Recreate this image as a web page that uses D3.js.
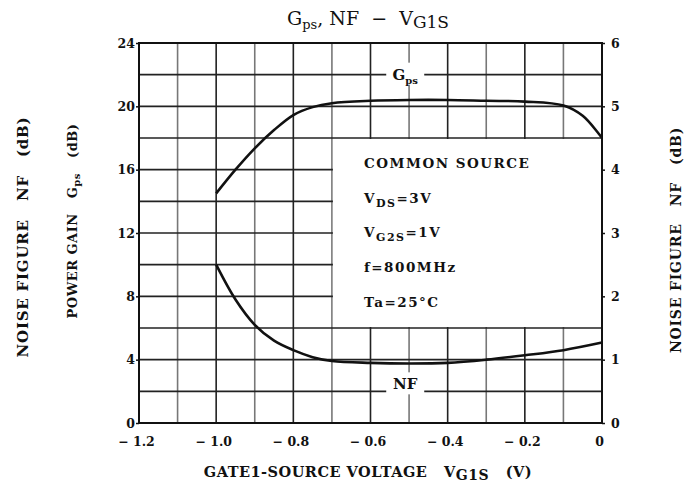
<!DOCTYPE html>
<html>
<head>
<meta charset="utf-8">
<script src="https://cdn.jsdelivr.net/npm/d3@7"></script>
<style>
  body { margin: 0; background: #fff; }
  text { font-family: "DejaVu Serif", "Liberation Serif", serif; fill: #111; white-space: pre; }
</style>
</head>
<body>
<div id="chart"></div>
<script>
'use strict'

// DATA
var vg1s = [-1.0, -0.95, -0.9, -0.85, -0.8, -0.75, -0.7, -0.6, -0.5, -0.4, -0.3, -0.2, -0.1, -0.05, 0];
var gps = [14.5, 16.0, 17.35, 18.5, 19.45, 19.95, 20.2, 20.35, 20.4, 20.4, 20.35, 20.3, 20.05, 19.4, 18.0];

var vg1sNF = [-1.0, -0.95, -0.9, -0.85, -0.8, -0.75, -0.7, -0.6, -0.5, -0.4, -0.3, -0.2, -0.1, 0];
var nf = [2.5, 1.95, 1.55, 1.3, 1.15, 1.04, 0.98, 0.95, 0.94, 0.95, 1.0, 1.07, 1.15, 1.27];

var xTicks = [-1.2, -1.0, -0.8, -0.6, -0.4, -0.2, 0];
var xTickLabels = ['\u2212 1.2', '\u2212 1.0', '\u2212 0.8', '\u2212 0.6', '\u2212 0.4', '\u2212 0.2', '0'];
var leftTicks = [0, 4, 8, 12, 16, 20, 24];
var rightTicks = [0, 1, 2, 3, 4, 5, 6];
var conditions = ['COMMON SOURCE', ['V', 'DS', '=3V'], ['V', 'G2S', '=1V'], 'f=800MHz', 'Ta=25\u00b0C'];

// DISPLAY SETTINGS
var WIDTH = 698, HEIGHT = 491;
var LEFT = 139, RIGHT = 602, TOP = 43, BOTTOM = 423;

var svg = d3.select('#chart').append('svg').attr('width', WIDTH).attr('height', HEIGHT);

var x = d3.scaleLinear().domain([-1.2, 0]).range([LEFT, RIGHT]);
var y = d3.scaleLinear().domain([0, 24]).range([BOTTOM, TOP]);
var yNF = d3.scaleLinear().domain([0, 6]).range([BOTTOM, TOP]);

// GRID
var vLines = d3.range(-1.1, -0.05, 0.1);
svg.append('g').selectAll('line').data(vLines).enter().append('line')
  .attr('x1', function (d) { return x(d); })
  .attr('x2', function (d) { return x(d); })
  .attr('y1', TOP).attr('y2', BOTTOM)
  .attr('stroke', function (d, i) { return i % 2 === 0 ? '#777' : '#222'; })
  .attr('stroke-width', 1.6);

var hLines = d3.range(2, 24, 2);
svg.append('g').selectAll('line').data(hLines).enter().append('line')
  .attr('x1', LEFT).attr('x2', RIGHT)
  .attr('y1', function (d) { return y(d); })
  .attr('y2', function (d) { return y(d); })
  .attr('stroke', '#222')
  .attr('stroke-width', 1.6);

// white box for the conditions
svg.append('rect')
  .attr('x', x(-0.7) + 1).attr('y', y(18) + 1)
  .attr('width', x(0) - x(-0.7) - 1).attr('height', y(6) - y(18) - 2)
  .attr('fill', '#fff');

// FRAME
svg.append('rect')
  .attr('x', LEFT).attr('y', TOP)
  .attr('width', RIGHT - LEFT).attr('height', BOTTOM - TOP)
  .attr('fill', 'none').attr('stroke', '#111').attr('stroke-width', 2);

// AXES
var xAxis = d3.axisBottom(x).tickValues(xTicks).tickSize(0).tickPadding(14)
  .tickFormat(function (d, i) { return xTickLabels[i]; });
var gx = svg.append('g').attr('transform', 'translate(0,' + BOTTOM + ')').call(xAxis);
gx.select('.domain').remove();
gx.selectAll('text').attr('font-size', 12.5).attr('font-weight', 'bold').attr('dx', -3);

var gl = svg.append('g').attr('transform', 'translate(' + LEFT + ',0)')
  .call(d3.axisLeft(y).tickValues(leftTicks).tickSize(3).tickPadding(1));
gl.select('.domain').remove();
gl.selectAll('text').attr('font-size', 12.5).attr('font-weight', 'bold');

var gr = svg.append('g').attr('transform', 'translate(' + RIGHT + ',0)')
  .call(d3.axisRight(yNF).tickValues(rightTicks).tickSize(3).tickPadding(6).tickFormat(d3.format('d')));
gr.select('.domain').remove();
gr.selectAll('text').attr('font-size', 12.5).attr('font-weight', 'bold');
svg.selectAll('.tick line').attr('stroke', '#111').attr('stroke-width', 1.5);

// CURVES
var gpsLine = d3.line()
  .x(function (d, i) { return x(vg1s[i]); })
  .y(function (d) { return y(d); })
  .curve(d3.curveCatmullRom);
svg.append('path').datum(gps).attr('d', gpsLine)
  .attr('fill', 'none').attr('stroke', '#111').attr('stroke-width', 2.6);

var nfLine = d3.line()
  .x(function (d, i) { return x(vg1sNF[i]); })
  .y(function (d) { return yNF(d); })
  .curve(d3.curveCatmullRom);
svg.append('path').datum(nf).attr('d', nfLine)
  .attr('fill', 'none').attr('stroke', '#111').attr('stroke-width', 2.6);

// CURVE LABELS (with white background)
function curveLabel(cx, cy, main, sub) {
  svg.append('rect').attr('x', cx - 19).attr('y', cy - 13).attr('width', 38).attr('height', 22).attr('fill', '#fff');
  var t = svg.append('text').attr('x', cx).attr('y', cy + 4).attr('text-anchor', 'middle')
    .attr('font-size', 15).attr('font-weight', 'bold');
  t.append('tspan').text(main);
  if (sub) t.append('tspan').attr('dy', 4).attr('font-size', 10).text(sub);
}
curveLabel(x(-0.51), y(22) + 1, 'G', 'ps');
curveLabel(x(-0.51), y(2) - 6, 'NF');

// CONDITIONS
var cy0 = 168;
conditions.forEach(function (c, i) {
  var t = svg.append('text').attr('x', 364).attr('y', cy0 + i * 34.7)
    .attr('font-size', 13.5).attr('font-weight', 'bold').attr('letter-spacing', 1.5);
  if (typeof c === 'string') {
    t.text(c);
  } else {
    t.append('tspan').text(c[0]);
    t.append('tspan').attr('dy', 4).attr('font-size', 11).text(c[1]);
    t.append('tspan').attr('dy', -4).text(c[2]);
  }
});

// TITLE
var title = svg.append('text').attr('x', 368).attr('y', 25).attr('text-anchor', 'middle').attr('font-size', 19);
title.append('tspan').text('G');
title.append('tspan').attr('dy', 4).attr('font-size', 13).text('ps');
title.append('tspan').attr('dy', -4).text(', NF  \u2212  V');
title.append('tspan').attr('dy', 3).attr('font-size', 17).text('G1S');

// AXIS TITLES
var xt = svg.append('text').attr('x', 368).attr('y', 477).attr('text-anchor', 'middle')
  .attr('font-size', 14.5).attr('font-weight', 'bold').attr('letter-spacing', 0.5);
xt.append('tspan').text('GATE1-SOURCE VOLTAGE   V');
xt.append('tspan').attr('dy', 3).attr('font-size', 14).text('G1S');
xt.append('tspan').attr('dy', -3).text('   (V)');

svg.append('text').attr('transform', 'translate(28,237) rotate(-90)')
  .attr('text-anchor', 'middle').attr('font-size', 15).attr('font-weight', 'bold').attr('letter-spacing', 0.8)
  .text('NOISE FIGURE   NF   (dB)');

var pg = svg.append('text').attr('transform', 'translate(77,221) rotate(-90)')
  .attr('text-anchor', 'middle').attr('font-size', 13).attr('font-weight', 'bold').attr('fill', '#333')
  .attr('letter-spacing', 0.5);
pg.append('tspan').text('POWER GAIN   G');
pg.append('tspan').attr('dy', 3).attr('font-size', 10).text('ps');
pg.append('tspan').attr('dy', -3).text('   (dB)');

svg.append('text').attr('transform', 'translate(681,240) rotate(-90)')
  .attr('text-anchor', 'middle').attr('font-size', 14).attr('font-weight', 'bold').attr('fill', '#333')
  .attr('letter-spacing', 0.8)
  .text('NOISE FIGURE   NF   (dB)');
</script>
</body>
</html>
